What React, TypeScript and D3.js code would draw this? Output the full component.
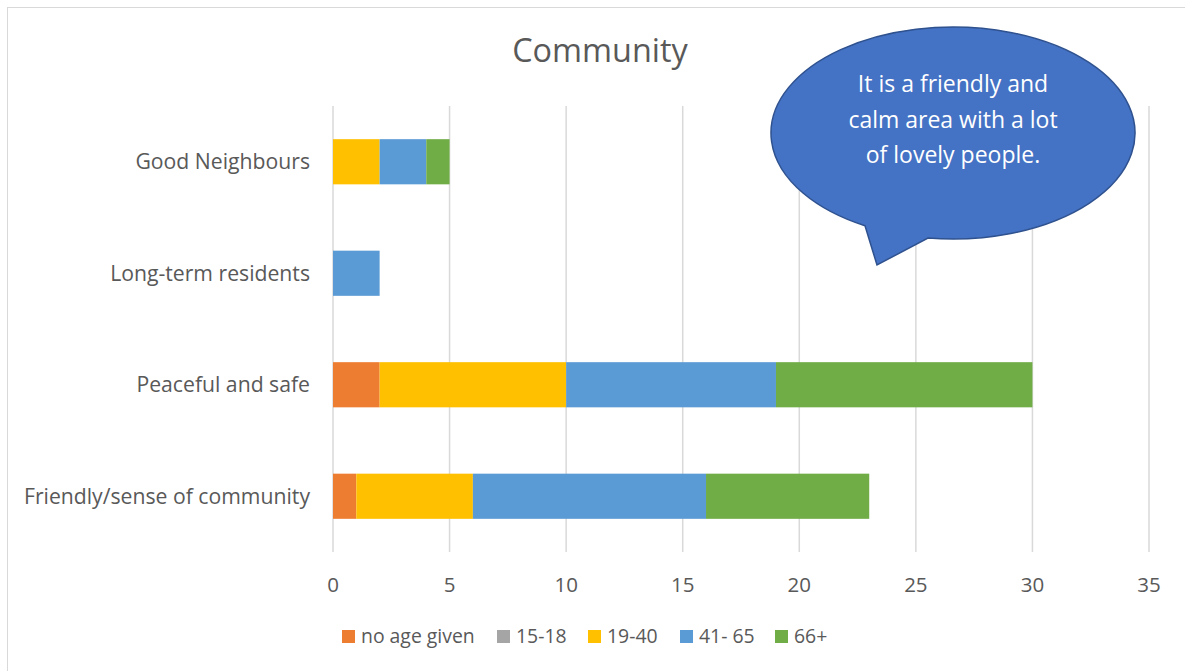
import React from "react";
import * as d3 from "d3";

const categories = ["Good Neighbours", "Long-term residents", "Peaceful and safe", "Friendly/sense of community"];
const seriesNames = ["no age given", "15-18", "19-40", "41- 65", "66+"];
const noAge = [0, 0, 2, 1];
const age1518 = [0, 0, 0, 0];
const age1940 = [2, 0, 8, 5];
const age4165 = [2, 2, 9, 10];
const age66 = [1, 0, 11, 7];
const xTicks = [0, 5, 10, 15, 20, 25, 30, 35];
const colors = ["#ED7D31", "#A5A5A5", "#FFC000", "#5B9BD5", "#70AD47"];
const calloutLines = ["It is a friendly and", "calm area with a lot", "of lovely people."];

const W = 1185, H = 671;
const FONT = "'Open Sans', sans-serif";

function calloutPath(cx: number, cy: number, rx: number, ry: number, xa: number, xb: number, tx: number, ty: number) {
  const ya = cy + ry * Math.sqrt(Math.max(0, 1 - ((xa - cx) / rx) ** 2));
  const yb = cy + ry * Math.sqrt(Math.max(0, 1 - ((xb - cx) / rx) ** 2));
  return `M ${xa} ${ya} L ${tx} ${ty} L ${xb} ${yb} A ${rx} ${ry} 0 1 0 ${xa} ${ya} Z`;
}

export default function App() {
  const x = d3.scaleLinear().domain([0, 35]).range([333, 1149]);
  const y = d3.scaleBand().domain(categories).range([106, 552]).paddingInner(0.595).paddingOuter(0.2975);
  const rows = categories.map((c, i) => ({ c, v: [noAge[i], age1518[i], age1940[i], age4165[i], age66[i]] }));
  const stack = d3.stack<any>().keys(seriesNames.map((_, k) => String(k)))(
    rows.map((r) => Object.fromEntries(r.v.map((v, k) => [String(k), v])))
  );
  const legendX = [342, 497, 588, 680, 775];
  return (
    <svg width={W} height={H} style={{ position: "absolute", left: 0, top: 0, fontFamily: FONT }}>
      <rect x={0} y={0} width={W} height={H} fill="#fff" />
      <rect x={7.5} y={7.5} width={W + 20} height={H + 20} fill="none" stroke="#D9D9D9" />
      <text x={600} y={62} textAnchor="middle" fontSize={32.4} fill="#595959">Community</text>
      {xTicks.map((t) => (
        <g key={t}>
          <line x1={x(t)} x2={x(t)} y1={106} y2={552} stroke="#D9D9D9" strokeWidth={1.5} />
          <text x={x(t)} y={592} textAnchor="middle" fontSize={20.5} fill="#595959">{t}</text>
        </g>
      ))}
      {stack.map((s, k) =>
        s.map((d, i) =>
          d[1] - d[0] > 0 ? (
            <rect key={`${k}-${i}`} x={x(d[0])} y={y(categories[i])} width={x(d[1]) - x(d[0])} height={y.bandwidth()} fill={colors[k]} />
          ) : null
        )
      )}
      {categories.map((c) => (
        <text key={c} x={310} y={y(c)! + y.bandwidth() / 2 + 7.5} textAnchor="end" fontSize={21.2} fill="#595959">{c}</text>
      ))}
      {seriesNames.map((n, k) => (
        <g key={n}>
          <rect x={legendX[k]} y={630} width={13} height={13} fill={colors[k]} />
          <text x={legendX[k] + 19} y={643} fontSize={19.4} fill="#595959">{n}</text>
        </g>
      ))}
      <path d={calloutPath(953, 133, 182, 106, 865, 928, 877, 265)} fill="#4472C4" stroke="#2F528F" strokeWidth={1.5} />
      {calloutLines.map((l, i) => (
        <text key={i} x={953} y={92 + i * 35.5} textAnchor="middle" fontSize={23} fill="#fff">{l}</text>
      ))}
    </svg>
  );
}
